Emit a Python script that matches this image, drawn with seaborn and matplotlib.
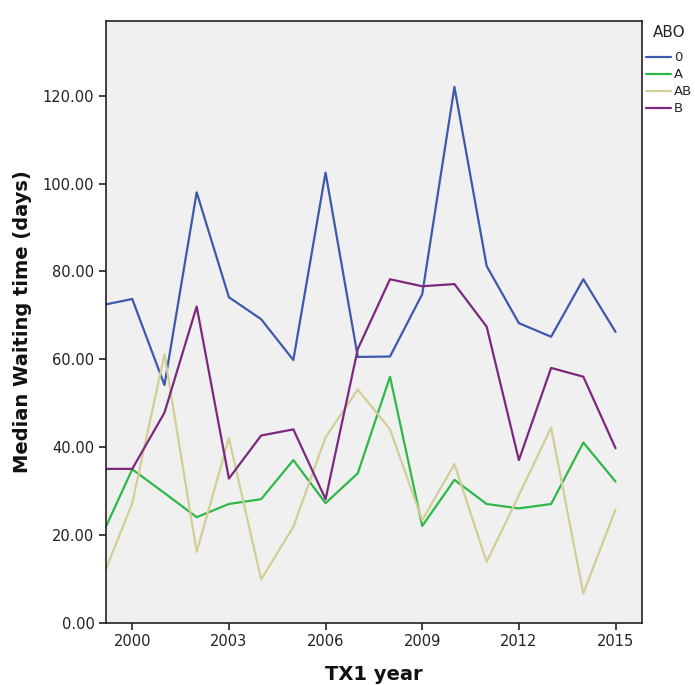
import numpy as np
import pandas as pd
import matplotlib
matplotlib.use("Agg")
import matplotlib.pyplot as plt
from matplotlib.ticker import FormatStrFormatter
import seaborn as sns

years = list(range(1999, 2016))
wait_0 = [72.2, 73.7, 54.1, 98.0, 74.1, 69.1, 59.8, 102.5, 60.5, 60.6, 74.8, 122.0, 81.2, 68.2, 65.1, 78.2, 66.2]
wait_A = [18.9, 34.9, 29.5, 24.0, 27.0, 28.1, 37.0, 27.2, 34.0, 56.0, 22.0, 32.5, 27.0, 26.0, 27.0, 41.0, 32.1]
wait_AB = [8.8, 27.2, 61.1, 16.1, 42.0, 9.8, 21.8, 42.2, 53.1, 44.0, 23.3, 36.1, 13.8, 29.0, 44.4, 6.6, 25.8]
wait_B = [35.0, 35.0, 47.8, 72.0, 32.8, 42.6, 44.0, 28.1, 62.3, 78.2, 76.6, 77.1, 67.4, 37.0, 58.0, 56.0, 39.7]
groups = ["0", "A", "AB", "B"]
colors = ["#3E58AC", "#2EB848", "#D3CE97", "#7C287D"]
x_ticks = [2000, 2003, 2006, 2009, 2012, 2015]
y_ticks = [0, 20, 40, 60, 80, 100, 120]

series = {"0": wait_0, "A": wait_A, "AB": wait_AB, "B": wait_B}
df = pd.concat(
    [pd.DataFrame({"year": years, "wait": vals, "ABO": g}) for g, vals in series.items()],
    ignore_index=True,
)

sns.set_style("ticks")
plt.rcParams["font.family"] = ["DejaVu Sans"]

fig = plt.figure(figsize=(6.95, 6.85), dpi=100)
ax = fig.add_axes([0.1518, 0.0912, 0.7719, 0.8786])
ax.set_facecolor("#F0F0F0")

sns.lineplot(data=df, x="year", y="wait", hue="ABO", hue_order=groups,
             palette=dict(zip(groups, colors)), linewidth=1.6, ax=ax, legend=False)

ax.set_xlim(1999.17, 2015.82)
ax.set_ylim(0, 137.1)
ax.set_xticks(x_ticks)
ax.set_yticks(y_ticks)
ax.yaxis.set_major_formatter(FormatStrFormatter("%.2f"))
ax.tick_params(axis="both", direction="out", length=5, width=1.2, color="#222222",
               labelsize=10.5, labelcolor="#222222", pad=3)
for s in ax.spines.values():
    s.set_linewidth(1.2)
    s.set_color("#222222")

ax.set_xlabel("TX1 year", fontsize=14, fontweight="bold", labelpad=12, color="#111111")
ax.set_ylabel("Median Waiting time (days)", fontsize=14, fontweight="bold", labelpad=8, color="#111111")

handles = [plt.Line2D([], [], color=c, linewidth=1.6) for c in colors]
leg = fig.legend(handles, groups, title="ABO", loc="upper left",
                 bbox_to_anchor=(0.929, 0.964), frameon=False, fontsize=9.5,
                 title_fontsize=11, handlelength=1.9, handletextpad=0.25,
                 labelspacing=0.3, borderaxespad=0, borderpad=0)
# extra gap between the legend title and its entries
leg._legend_box.sep = 8.5

fig.savefig("out.png", dpi=100)
